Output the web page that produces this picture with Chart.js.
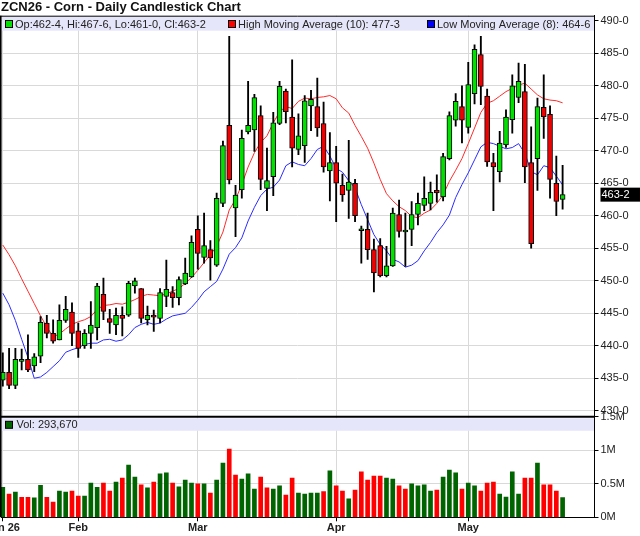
<!DOCTYPE html>
<html>
<head>
<meta charset="utf-8">
<script src="https://cdn.jsdelivr.net/npm/chart.js@4.4.1/dist/chart.umd.min.js"></script>
<style>
html,body{margin:0;padding:0;background:#fff;}
#wrap{position:relative;width:640px;height:536px;overflow:hidden;background:#fff;}
#c1{position:absolute;left:0;top:0;}
#c2{position:absolute;left:0;top:410px;}
</style>
</head>
<body>
<div id="wrap">
<canvas id="c1" width="640" height="417" style="width:640px;height:417px"></canvas>
<canvas id="c2" width="640" height="126" style="width:640px;height:126px"></canvas>
</div>
<script>
// ---------- data ----------
const monthTickIdx = [0, 12, 31, 53, 74];
const monthLabels = ['Jan 26', 'Feb', 'Mar', 'Apr', 'May'];
const priceTicks = [430, 435, 440, 445, 450, 455, 460, 465, 470, 475, 480, 485, 490];
const volTicks = [0, 500000, 1000000, 1500000];
const volTickLabels = ['0M', '0.5M', '1M', '1.5M'];

const open = [434.7,435.9,433.9,437.6,437.9,436.9,438.4,443.5,441.9,440.9,
443.9,445.2,442.3,440.0,441.9,442.8,447.9,444.2,443.2,444.7,
444.7,449.2,448.8,444.0,444.5,444.2,447.6,448.2,447.4,449.5,
450.6,457.9,453.6,454.8,452.4,461.9,473.9,461.2,464.0,472.9,
473.2,475.4,464.2,466.0,474.2,479.2,475.2,470.2,470.8,476.9,
476.8,474.2,466.9,468.2,464.7,463.9,465.0,457.7,457.9,454.8,
455.4,450.8,452.3,460.2,457.5,457.9,460.2,461.6,461.9,463.9,
462.9,468.8,474.7,476.8,473.6,478.8,484.8,478.4,468.2,466.8,
470.9,474.8,478.2,479.1,468.2,468.8,476.7,475.6,465.0,462.5];
const high = [438.9,439.6,439.6,439.5,441.7,438.8,444.5,444.7,444.0,446.3,
447.6,446.6,443.5,442.5,446.8,449.6,450.4,445.6,445.8,446.0,
449.9,450.4,448.8,446.1,445.5,448.8,453.2,449.1,450.6,453.5,
456.9,460.0,460.4,456.2,463.5,471.5,487.6,464.7,473.2,480.7,
478.7,476.9,470.4,475.9,480.7,479.5,484.0,475.7,478.5,479.3,
481.2,477.5,472.8,470.7,466.4,471.6,465.6,458.4,460.4,456.4,
456.5,455.3,461.2,462.4,460.4,462.2,463.5,466.0,465.2,466.3,
469.6,476.0,478.8,480.0,483.6,486.3,487.6,479.5,469.6,473.0,
476.3,481.7,483.5,483.3,473.7,478.1,481.7,476.9,469.2,467.75];
const low = [433.8,433.4,433.4,436.3,436.0,436.0,437.4,441.2,440.4,440.9,
443.6,440.0,438.2,439.6,439.6,440.9,444.0,441.9,441.7,441.5,
444.5,448.1,443.5,443.2,442.2,443.5,446.0,445.9,446.3,449.4,
450.5,451.8,452.7,450.1,452.2,461.4,464.9,456.8,462.7,472.6,
469.9,464.0,460.8,463.1,474.0,474.3,467.5,469.4,468.2,473.1,
472.2,466.7,462.3,459.1,462.2,459.6,459.1,452.7,453.3,448.3,
450.6,450.6,452.2,456.7,452.2,455.4,458.6,460.8,460.9,462.1,
462.3,468.6,473.8,471.2,472.7,477.2,477.1,467.6,460.8,465.2,
470.5,472.7,477.4,465.1,455.0,463.9,471.9,462.7,460.0,461.0];
const close = [435.9,433.9,437.9,437.6,436.3,438.3,443.6,441.9,440.7,443.9,
445.6,441.9,439.6,441.9,443.2,449.2,445.3,443.6,444.7,444.2,
449.6,450.0,444.2,444.7,444.4,448.2,448.7,447.4,450.2,451.2,
455.9,454.2,455.4,453.5,462.7,470.8,465.5,463.2,471.9,473.9,
478.2,465.6,465.4,474.3,479.9,476.0,470.4,472.3,477.7,477.9,
473.5,467.5,468.2,465.0,463.2,465.2,460.0,457.9,454.8,451.2,
450.8,452.3,460.4,457.6,457.5,460.2,461.9,462.7,463.6,463.5,
469.1,475.4,477.6,474.7,480.2,485.6,479.9,468.3,467.5,471.2,
475.2,480.0,480.7,467.5,455.7,476.8,475.2,465.6,462.2,463.25];
const highMA = [455.5,454.0,452.3,450.3,448.4,446.5,444.6,442.9,441.4,441.8,
442.6,443.3,443.7,444.0,444.5,445.6,446.2,446.3,446.5,446.4,
446.7,447.1,447.6,447.9,447.8,447.7,448.0,448.4,448.8,449.6,
450.5,451.6,452.8,454.0,455.3,457.5,460.9,462.5,464.8,467.5,
469.7,471.3,472.3,474.3,476.0,476.8,476.5,477.6,478.1,478.0,
478.2,478.3,478.5,478.0,476.6,475.8,473.9,472.2,470.4,468.1,
465.6,463.4,462.3,461.4,460.8,459.9,459.7,460.4,460.9,461.9,
463.2,465.3,467.0,468.8,471.1,473.5,475.9,477.3,477.7,478.4,
479.1,479.6,480.1,480.4,479.5,478.6,478.0,477.8,477.7,477.375];
const lowMA = [448.1,446.3,443.9,441.0,438.2,435.0,435.2,435.9,436.8,437.7,
439.0,439.4,439.7,440.2,440.4,440.4,440.9,441.0,440.7,440.9,
441.7,442.8,443.3,443.6,443.3,443.5,444.1,444.6,444.8,445.0,
445.9,447.0,448.3,449.1,449.9,451.8,454.1,455.1,456.6,459.2,
461.3,463.1,464.1,464.4,465.5,467.7,468.3,467.9,467.7,468.8,
470.2,470.7,469.2,467.3,466.7,465.4,464.3,461.7,459.4,457.1,
455.6,454.6,453.3,452.9,452.1,452.4,453.1,454.6,455.9,457.4,
458.6,460.1,462.8,464.8,466.6,468.6,470.6,471.3,471.1,470.7,
470.3,470.5,471.1,469.6,466.8,466.3,467.7,467.4,466.1,464.75];
const volume = [448000,348000,378000,299000,299000,289000,478000,299000,229000,393000,
378000,393000,318000,318000,512000,448000,512000,393000,527000,587000,
781000,602000,483000,438000,527000,647000,662000,512000,453000,557000,
512000,498000,498000,363000,557000,811000,1020000,632000,572000,647000,
423000,602000,438000,423000,468000,333000,587000,363000,348000,363000,
363000,383000,692000,468000,393000,274000,408000,677000,557000,617000,
617000,587000,572000,468000,423000,498000,468000,483000,393000,408000,
602000,706000,662000,423000,512000,468000,393000,512000,527000,348000,
303000,677000,348000,587000,587000,811000,483000,483000,393000,293670];
const volUp = [1,0,1,0,0,1,1,0,0,1, 1,0,0,1,1,1,0,0,1,0, 1,1,0,1,0,1,1,0,1,1,
1,0,1,0,1,1,0,0,1,1, 1,0,0,1,1,0,0,1,1,1, 1,0,1,0,0,1,0,0,0,0,
0,1,1,0,0,1,1,1,1,0, 1,1,1,0,1,1,0,0,0,1, 1,1,1,0,0,1,0,0,0,1];

// ---------- helpers ----------
const FONT = "'Liberation Sans', Arial, Helvetica, sans-serif";
const GREEN = '#00e100', RED = '#f00000', VGREEN = '#006400', VRED = '#ff0000';
const idx = close.map((_, i) => i);
const last = close.length - 1;
const xMin = -0.286, xMax = 94.07;
function fmt(v) { const f = Math.floor(v + 1e-9); return f + '-' + Math.round((v - f) * 8); }

Chart.defaults.font.family = FONT;

function setTicks(arr) { return s => { s.ticks = arr.map(v => ({ value: v })); }; }
function fitY(w) { return s => { s.width = w; s.paddingTop = 0; s.paddingBottom = 0; }; }
function fitX(h) { return s => { s.height = h; s.paddingLeft = 0; s.paddingRight = 0; }; }

// ---------- price panel ----------
const pricePanel = {
  id: 'pricePanel',
  afterDraw(chart) {
    const ctx = chart.ctx, ca = chart.chartArea;
    ctx.save();
    ctx.fillStyle = '#e6e6fa';
    ctx.fillRect(ca.left + 1, ca.top + 1, ca.right - ca.left - 1.5, 14);
    ctx.strokeStyle = '#000';
    ctx.lineWidth = 1;
    ctx.beginPath();
    ctx.moveTo(0, ca.top + 0.5); ctx.lineTo(ca.right, ca.top + 0.5);
    ctx.stroke();
    ctx.lineWidth = 1.6;
    ctx.beginPath();
    ctx.moveTo(0.8, ca.top); ctx.lineTo(0.8, ca.bottom + 2);
    ctx.stroke();
    const ty = ca.top + 8.3;
    const items = [
      [5, GREEN, 'Op:' + fmt(open[last]) + ', Hi:' + fmt(high[last]) + ', Lo:' + fmt(low[last]) + ', Cl:' + fmt(close[last])],
      [228, '#ff0000', 'High Moving Average (10): ' + fmt(highMA[last])],
      [427, '#0000ff', 'Low Moving Average (8): ' + fmt(lowMA[last])]
    ];
    ctx.font = '11px ' + FONT;
    ctx.textBaseline = 'middle';
    ctx.textAlign = 'left';
    items.forEach(([x, col, txt]) => {
      ctx.fillStyle = col;
      ctx.fillRect(x + 0.5, ty - 3.5, 7, 7);
      ctx.lineWidth = 1;
      ctx.strokeStyle = '#000';
      ctx.strokeRect(x + 0.5, ty - 3.5, 7, 7);
      ctx.fillStyle = '#222';
      ctx.fillText(txt, x + 10, ty + 0.5);
    });
    const py = chart.scales.y.getPixelForValue(close[last]);
    ctx.fillStyle = '#000';
    ctx.fillRect(600.5, py - 7, 40, 14);
    ctx.fillStyle = '#fff';
    ctx.fillText(fmt(close[last]), 601.5, py + 0.5);
    ctx.restore();
  }
};

new Chart(document.getElementById('c1'), {
  type: 'bar',
  data: {
    datasets: [
      {
        type: 'bar', label: 'Body',
        data: idx.map(i => ({ x: i, y: [open[i], close[i]] })),
        backgroundColor: c => (close[c.dataIndex] >= open[c.dataIndex] ? GREEN : RED),
        borderColor: '#000', borderWidth: 1, borderSkipped: false,
        barThickness: 5, minBarLength: 2, grouped: false, order: 0
      },
      {
        type: 'bar', label: 'Wick',
        data: idx.map(i => ({ x: i, y: [low[i], high[i]] })),
        backgroundColor: '#000', borderWidth: 0,
        barThickness: 1.2, grouped: false, order: 1
      },
      {
        type: 'line', label: 'High Moving Average (10)',
        data: idx.map(i => ({ x: i, y: highMA[i] })),
        borderColor: '#ff2b2b', borderWidth: 1, pointRadius: 0, tension: 0, order: 2
      },
      {
        type: 'line', label: 'Low Moving Average (8)',
        data: idx.map(i => ({ x: i, y: lowMA[i] })),
        borderColor: '#2b2bff', borderWidth: 1, pointRadius: 0, tension: 0, order: 3
      }
    ]
  },
  options: {
    responsive: false, animation: false, devicePixelRatio: 1,
    layout: { padding: { left: 1, top: 0, right: 0, bottom: 0.5 } },
    plugins: {
      legend: { display: false }, tooltip: { enabled: false },
      title: {
        display: true, text: 'ZCN26 - Corn - Daily Candlestick Chart', align: 'start',
        color: '#111', padding: 0,
        font: { family: FONT, size: 13, weight: 'bold', lineHeight: 1.2077 }
      }
    },
    scales: {
      x: {
        type: 'linear', min: xMin, max: xMax, offset: false,
        afterBuildTicks: setTicks(monthTickIdx),
        ticks: { display: false },
        grid: { color: '#d9d9d9', drawTicks: false, offset: false },
        border: { display: false },
        afterFit: fitX(0)
      },
      y: {
        position: 'right', min: 429.12, max: 490.78,
        afterBuildTicks: setTicks(priceTicks),
        ticks: { callback: v => v + '-0', color: '#222', padding: 2, font: { family: FONT, size: 11 } },
        grid: { color: '#d9d9d9', tickColor: '#000', tickLength: 4 },
        border: { color: '#000', width: 1 },
        afterFit: fitY(45.5)
      }
    }
  },
  plugins: [pricePanel]
});

// ---------- volume panel ----------
const volPanel = {
  id: 'volPanel',
  afterDraw(chart) {
    const ctx = chart.ctx, ca = chart.chartArea;
    ctx.save();
    ctx.fillStyle = '#e6e6fa';
    ctx.fillRect(ca.left + 1, ca.top + 1.5, ca.right - ca.left - 1.5, 12.5);
    ctx.strokeStyle = '#000';
    ctx.lineWidth = 2;
    ctx.beginPath();
    ctx.moveTo(0, ca.top); ctx.lineTo(ca.right + 0.5, ca.top);
    ctx.stroke();
    ctx.lineWidth = 1.6;
    ctx.beginPath();
    ctx.moveTo(0.8, ca.top); ctx.lineTo(0.8, ca.bottom);
    ctx.stroke();
    const ty = ca.top + 8;
    ctx.fillStyle = VGREEN;
    ctx.fillRect(5.5, ty - 3.5, 7, 7);
    ctx.lineWidth = 1;
    ctx.strokeRect(5.5, ty - 3.5, 7, 7);
    ctx.font = '11px ' + FONT;
    ctx.textBaseline = 'middle';
    ctx.fillStyle = '#222';
    ctx.fillText('Vol: ' + volume[last].toLocaleString('en-US'), 16.5, ty + 0.5);
    ctx.restore();
  }
};

new Chart(document.getElementById('c2'), {
  type: 'bar',
  data: {
    datasets: [{
      label: 'Vol',
      data: idx.map(i => ({ x: i, y: volume[i] })),
      backgroundColor: c => (volUp[c.dataIndex] ? VGREEN : VRED),
      borderWidth: 0, barThickness: 4
    }]
  },
  options: {
    responsive: false, animation: false, devicePixelRatio: 1,
    layout: { padding: { left: 1, top: 6.8, right: 0, bottom: 0 } },
    plugins: { legend: { display: false }, tooltip: { enabled: false } },
    scales: {
      x: {
        type: 'linear', min: xMin, max: xMax, offset: false,
        afterBuildTicks: setTicks(monthTickIdx),
        ticks: {
          callback: (v, k) => monthLabels[k], autoSkip: false, maxRotation: 0,
          color: '#222', padding: 0, font: { family: FONT, size: 11, weight: 'bold' }
        },
        grid: { color: '#d9d9d9', tickColor: '#000', tickLength: 4, offset: false },
        border: { color: '#000', width: 1 },
        afterFit: fitX(18.7)
      },
      y: {
        position: 'right', min: 0, max: 1500000,
        afterBuildTicks: setTicks(volTicks),
        ticks: { callback: (v, k) => volTickLabels[k], color: '#222', padding: 2, font: { family: FONT, size: 11 } },
        grid: { color: '#d9d9d9', tickColor: '#000', tickLength: 4 },
        border: { color: '#000', width: 1 },
        afterFit: fitY(45.5)
      }
    }
  },
  plugins: [volPanel]
});
</script>
</body>
</html>
